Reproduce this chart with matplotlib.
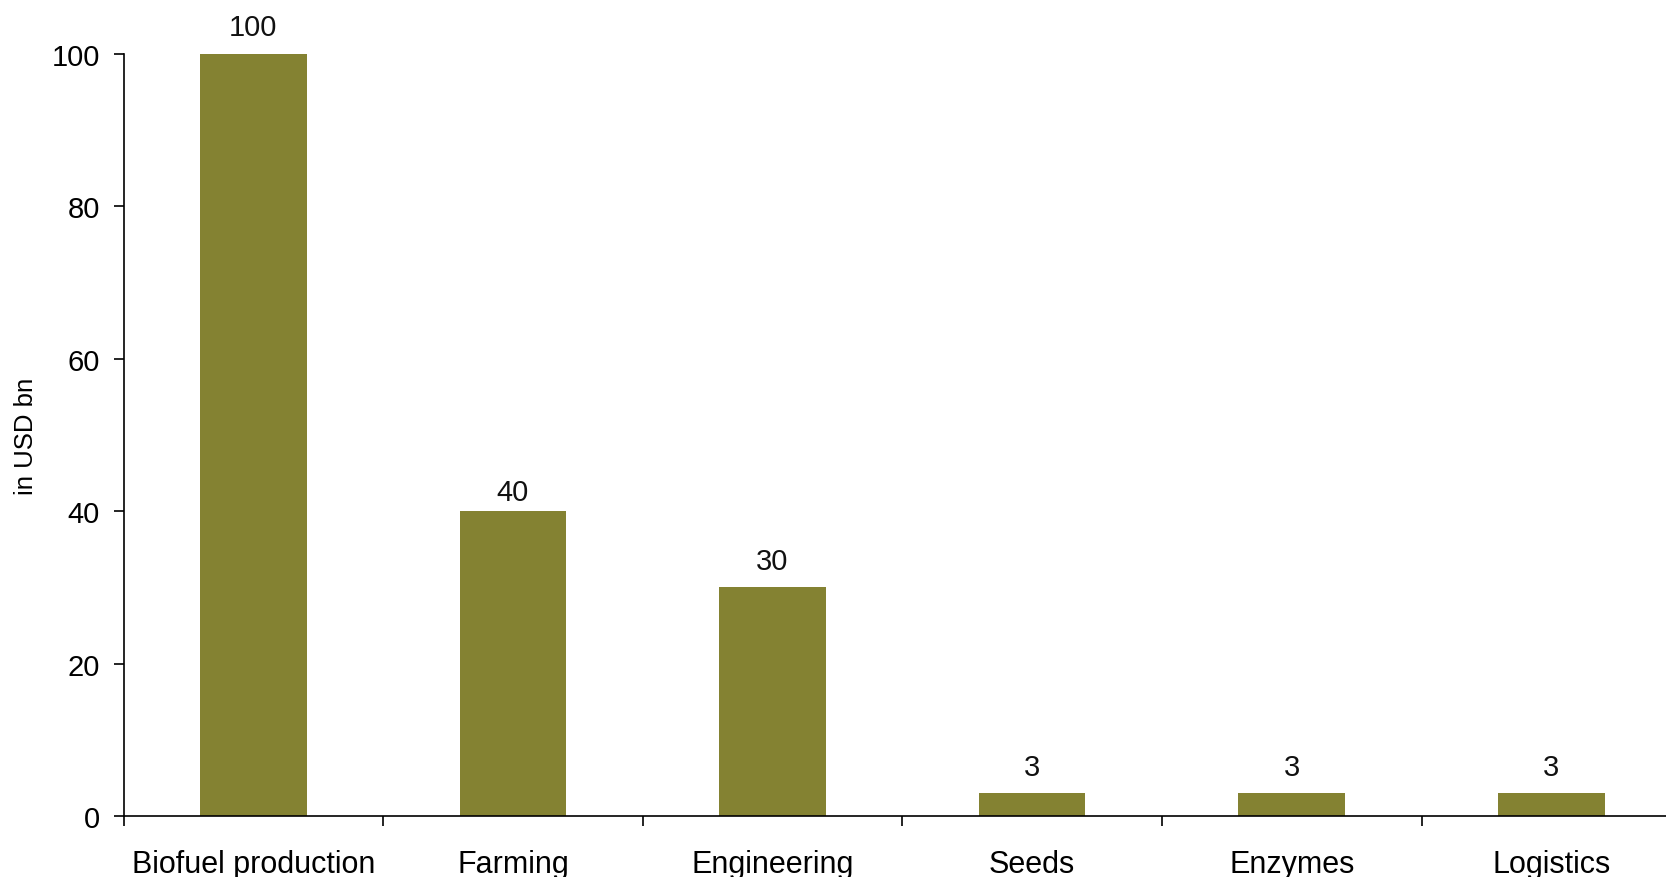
import matplotlib
matplotlib.use("Agg")
import matplotlib.pyplot as plt
import numpy as np

categories = ["Biofuel production", "Farming", "Engineering", "Seeds", "Enzymes", "Logistics"]
values = [100, 40, 30, 3, 3, 3]
value_labels = ["100", "40", "30", "3", "3", "3"]
yticks = [0, 20, 40, 60, 80, 100]

plt.rcParams['font.family'] = ['Liberation Sans', 'DejaVu Sans']

W, H = 1666, 878
fig = plt.figure(figsize=(W / 100, H / 100), dpi=100)
left_px, right_px = 123.5, 123.5 + 6 * 259.6
top_px, bottom_px = 54.5, 817.3
ax_w = right_px - left_px
ax = fig.add_axes([left_px / W, 1 - bottom_px / H, ax_w / W, (bottom_px - top_px) / H])

x = np.arange(len(categories))
color = "#848232"
ax.bar(x, values, width=0.41, color=color, edgecolor="none", zorder=2)

# label offsets (points above bar top), styling only
label_offsets = [13, 7.8, 13, 13, 13, 13]
for xi, v, lab, off in zip(x, values, value_labels, label_offsets):
    ax.annotate(lab, (xi, v), xytext=(0, off), textcoords="offset points",
                ha="center", va="baseline", fontsize=21, color="#111111")

ax.set_xlim(-0.5, len(categories) - 0.5)
ax.set_ylim(0, 100)
ax.set_yticks(yticks)
ax.set_yticklabels([str(t) for t in yticks])

ax.set_xticks(np.arange(len(categories) + 1) - 0.5)
ax.set_xticklabels([])
ax.set_xticks(x, minor=True)
ax.set_xticklabels(categories, minor=True)
ax.tick_params(axis="x", which="major", direction="out", length=7, width=1.2, color="black")
ax.tick_params(axis="x", which="minor", length=0, pad=23.5, labelsize=22)
ax.tick_params(axis="y", direction="out", length=7, width=1.2, pad=10, labelsize=21)

for s in ["top", "right"]:
    ax.spines[s].set_visible(False)
for s in ["left", "bottom"]:
    ax.spines[s].set_linewidth(1.2)
    ax.spines[s].set_color("black")

ax.set_ylabel("in USD bn", fontsize=18.5)
ax.yaxis.set_label_coords((38 - left_px) / ax_w, 0.5)

fig.savefig("out.png", dpi=100, facecolor="white")
